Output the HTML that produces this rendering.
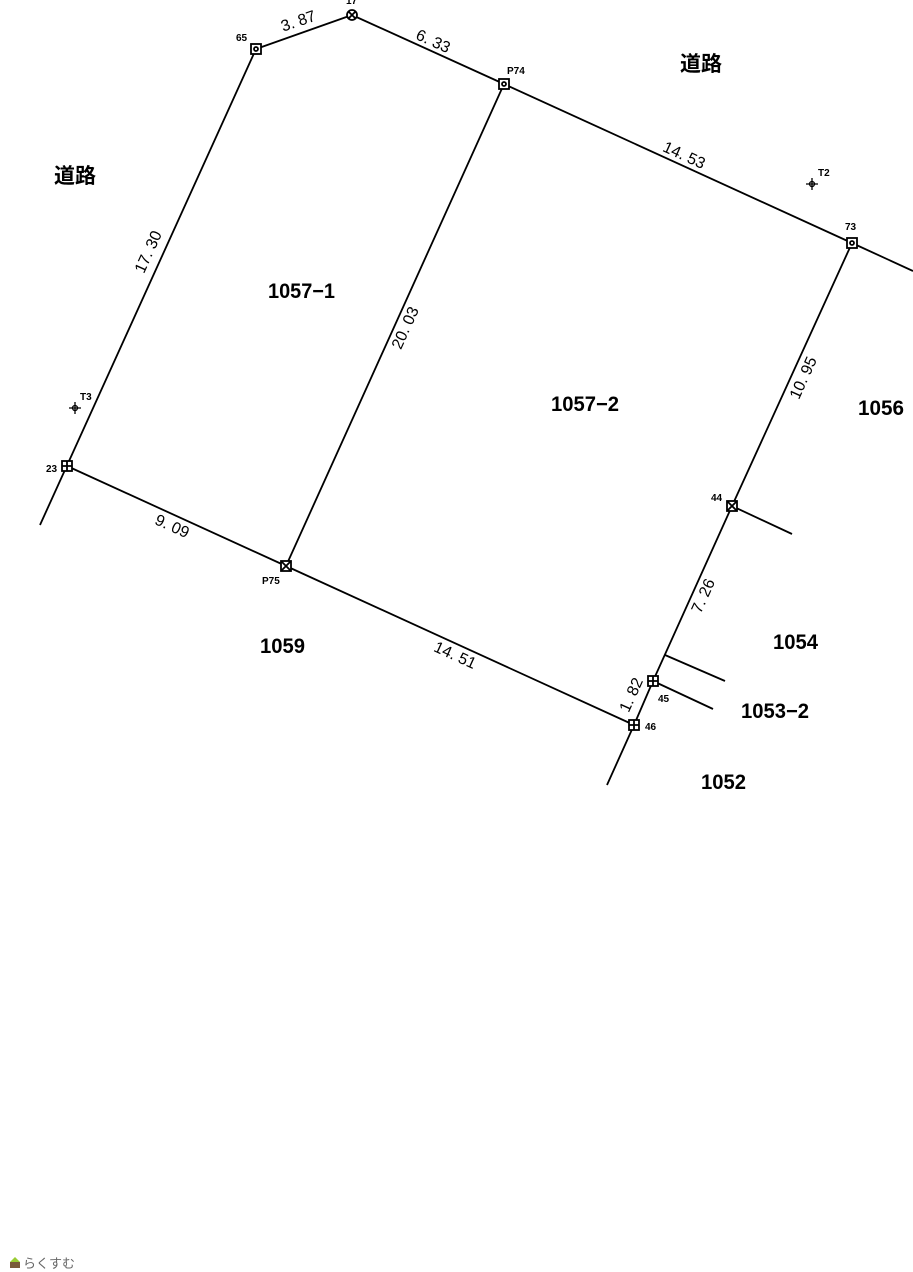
<!DOCTYPE html>
<html><head><meta charset="utf-8"><style>
html,body{margin:0;padding:0;background:#fff;}
svg{display:block;}
text{font-family:"Liberation Sans","Noto Sans CJK JP",sans-serif;fill:#000;}
.big{font-size:21px;}
.dim{font-size:16px;}
.pt{font-size:10px;font-weight:bold;}
</style></head><body>
<svg width="913" height="1272" viewBox="0 0 913 1272" xmlns="http://www.w3.org/2000/svg">
<g stroke="#000" stroke-width="1.8" fill="none">
<polyline points="256,49 352,15 504,84 852,243 913,271"/>
<line x1="256" y1="49" x2="40" y2="525"/>
<polyline points="67,466 286,566 634,725"/>
<line x1="504" y1="84" x2="286" y2="566"/>
<polyline points="852,243 732,506 653,681 634,725 607,785"/>
<line x1="732" y1="506" x2="792" y2="534"/>
<line x1="665" y1="655" x2="725" y2="681"/>
<line x1="653" y1="681" x2="713" y2="709"/>
</g>
<g stroke="#000" stroke-width="1.8" fill="#fff">
<rect x="251" y="44" width="10" height="10"/><circle cx="256" cy="49" r="2"/>
<rect x="499" y="79" width="10" height="10"/><circle cx="504" cy="84" r="2"/>
<rect x="847" y="238" width="10" height="10"/><circle cx="852" cy="243" r="2"/>
<circle cx="352" cy="15" r="5"/><path d="M348.5 11.5l7 7M355.5 11.5l-7 7"/>
<rect x="281" y="561" width="10" height="10"/><path d="M281 561l10 10M291 561l-10 10"/>
<rect x="727" y="501" width="10" height="10"/><path d="M727 501l10 10M737 501l-10 10"/>
<rect x="62" y="461" width="10" height="10"/><path d="M67 461v10M62 466h10"/>
<rect x="648" y="676" width="10" height="10"/><path d="M653 676v10M648 681h10"/>
<rect x="629" y="720" width="10" height="10"/><path d="M634 720v10M629 725h10"/>
</g>
<g stroke="#000" stroke-width="1.3" fill="none">
<path d="M75 402v12M69 408h12"/><circle cx="75" cy="408" r="2.5"/>
<path d="M812 178v12M806 184h12"/><circle cx="812" cy="184" r="2.5"/>
</g>
<g class="pt">
<text x="236" y="41">65</text>
<text x="346" y="4">17</text>
<text x="507" y="74">P74</text>
<text x="845" y="230">73</text>
<text x="818" y="176">T2</text>
<text x="80" y="400">T3</text>
<text x="46" y="472">23</text>
<text x="262" y="584">P75</text>
<text x="711" y="501">44</text>
<text x="658" y="702">45</text>
<text x="645" y="730">46</text>
</g>
<g class="big" font-weight="bold">
<text x="680" y="71">道路</text>
<text x="54" y="183">道路</text>
</g>
<g class="big" font-weight="bold">
<text x="268" y="298" textLength="67" lengthAdjust="spacingAndGlyphs">1057−1</text>
<text x="551" y="411" textLength="68" lengthAdjust="spacingAndGlyphs">1057−2</text>
<text x="858" y="415" textLength="46" lengthAdjust="spacingAndGlyphs">1056</text>
<text x="773" y="649" textLength="45" lengthAdjust="spacingAndGlyphs">1054</text>
<text x="741" y="718" textLength="68" lengthAdjust="spacingAndGlyphs">1053−2</text>
<text x="701" y="789" textLength="45" lengthAdjust="spacingAndGlyphs">1052</text>
<text x="260" y="653" textLength="45" lengthAdjust="spacingAndGlyphs">1059</text>
</g>
<g class="dim" text-anchor="middle">
<text transform="translate(300,26) rotate(-19)">3. 87</text>
<text transform="translate(431,46) rotate(24.5)">6. 33</text>
<text transform="translate(682,160) rotate(24.5)">14. 53</text>
<text transform="translate(153,254) rotate(-65.6)">17. 30</text>
<text transform="translate(410,330) rotate(-65.6)">20. 03</text>
<text transform="translate(808,380) rotate(-65.6)">10. 95</text>
<text transform="translate(708,598) rotate(-65.6)">7. 26</text>
<text transform="translate(636,697) rotate(-65.6)">1. 82</text>
<text transform="translate(170,531) rotate(24.5)">9. 09</text>
<text transform="translate(453,660) rotate(24.5)">14. 51</text>
</g>
<polygon points="10,1262 15,1257 20,1262" fill="#9c3"/>
<rect x="10" y="1262" width="10" height="6" fill="#7a5a3a"/>
<text x="23" y="1268" font-size="13" style="fill:#666">らくすむ</text>
</svg>
</body></html>
